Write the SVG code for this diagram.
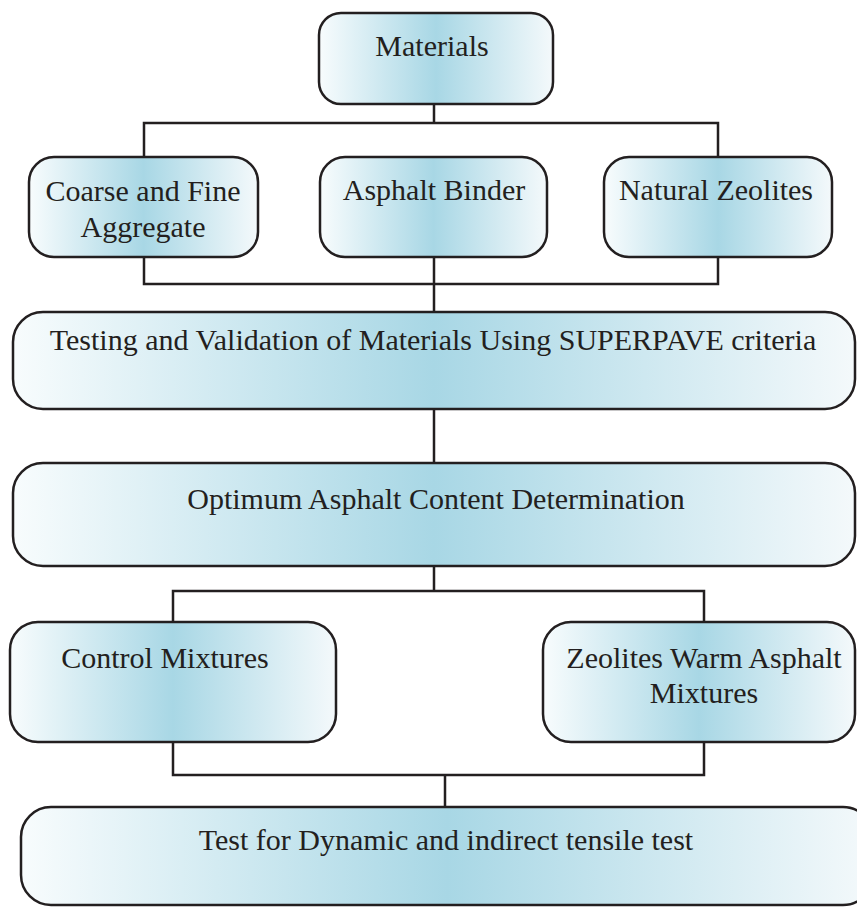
<svg xmlns="http://www.w3.org/2000/svg" width="857" height="907" viewBox="0 0 857 907">
<defs>
<linearGradient id="g" x1="0" y1="0" x2="1" y2="0">
<stop offset="0" stop-color="#f8fcfd"/>
<stop offset="0.5" stop-color="#a8d7e5"/>
<stop offset="1" stop-color="#f4f9fb"/>
</linearGradient>
</defs>
<style>
.box{fill:url(#g);stroke:#231f20;stroke-width:2.5}
.t{font-family:"Liberation Serif","Times New Roman",serif;font-size:30px;fill:#231f20;text-anchor:middle}
.c{fill:none;stroke:#231f20;stroke-width:2.5}
</style>
<rect width="857" height="907" fill="#ffffff"/>
<g id="connectors">
<path class="c" d="M434 104V123M144 157V123H718V157"/>
<path class="c" d="M144 257V284H718V257M434 257V312"/>
<path class="c" d="M434 409V463"/>
<path class="c" d="M434 566V591M173 622V591H704V622"/>
<path class="c" d="M173 742V775H704V742M445 775V807"/>
</g>
<g id="materials"><rect class="box" x="319" y="13" width="234" height="91" rx="22"/><text class="t" x="432" y="56">Materials</text></g>
<g id="aggregate"><rect class="box" x="29" y="157" width="229" height="100" rx="25"/><text class="t" x="143" y="201">Coarse and Fine</text><text class="t" x="143" y="237">Aggregate</text></g>
<g id="binder"><rect class="box" x="320" y="157" width="227" height="100" rx="25"/><text class="t" x="434" y="200">Asphalt Binder</text></g>
<g id="zeolites"><rect class="box" x="604" y="157" width="228" height="100" rx="25"/><text class="t" x="716" y="200">Natural Zeolites</text></g>
<g id="testing"><rect class="box" x="13" y="312" width="842" height="97" rx="30"/><text class="t" x="433" y="350">Testing and Validation of Materials Using SUPERPAVE criteria</text></g>
<g id="optimum"><rect class="box" x="13" y="463" width="842" height="103" rx="30"/><text class="t" x="436" y="509">Optimum Asphalt Content Determination</text></g>
<g id="control"><rect class="box" x="10" y="622" width="326" height="120" rx="28"/><text class="t" x="165" y="668">Control Mixtures</text></g>
<g id="warm"><rect class="box" x="543" y="622" width="312" height="120" rx="28"/><text class="t" x="704" y="668">Zeolites Warm Asphalt</text><text class="t" x="704" y="703">Mixtures</text></g>
<g id="final"><rect class="box" x="21" y="807" width="852" height="98" rx="30"/><text class="t" x="446" y="850">Test for Dynamic and indirect tensile test</text></g>
</svg>
